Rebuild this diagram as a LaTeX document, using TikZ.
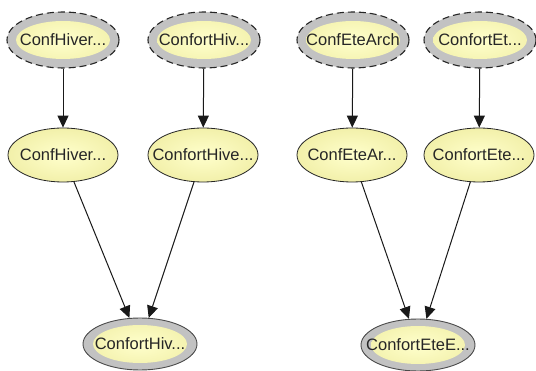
\documentclass[tikz,border=0pt]{standalone}
\usepackage{fontspec}
\setmainfont{Liberation Sans}
\usetikzlibrary{arrows.meta, shapes.geometric}
\definecolor{ringgray}{HTML}{C2C2C2}
\definecolor{nodeyellow}{HTML}{FFFFCC}
\definecolor{edgeyellow}{HTML}{F2F0AA}
\definecolor{rimdark}{HTML}{4A4A4A}

% label that does not widen its ellipse
\newcommand{\varname}[1]{\makebox[0pt][c]{#1}}

\tikzset{
    lbl/.style={font=\fontsize{16.5}{19}\selectfont, text=black!85},
    inyellow/.style={path picture={
        \shade[inner color=nodeyellow, outer color=edgeyellow]
            (path picture bounding box.center) ellipse [x radius=47pt, y radius=19pt];}},
    srcnode/.style={ellipse, lbl, minimum width=112pt, minimum height=56pt,
        fill=ringgray, draw=black!85, dashed, dash pattern=on 7pt off 4pt,
        line width=1.1pt, inner sep=0pt, inyellow},
    midnode/.style={ellipse, lbl, minimum width=110pt, minimum height=54pt,
        shade, inner color=nodeyellow, outer color=edgeyellow,
        draw=black!85, line width=0.8pt, inner sep=0pt},
    resnode/.style={ellipse, lbl, minimum width=114pt, minimum height=52pt,
        fill=ringgray, draw=rimdark, line width=0.9pt, inner sep=0pt, inyellow},
    link/.style={-{Triangle[width=11pt,length=12pt]}, line width=1pt, black!90},
}

\begin{document}
\begin{tikzpicture}[x=1pt, y=-1pt]
    \useasboundingbox[fill=white] (0,0) rectangle (536,371);

    % sources
    \node[srcnode] (hivarch) at (63,40) {\varname{ConfHiver...}};
    \node[srcnode] (hivconf) at (204,40) {\varname{ConfortHiv...}};
    \node[srcnode] (etearch) at (353,40) {\varname{ConfEteArch}};
    \node[srcnode] (eteconf) at (480,40) {\varname{ConfortEt...}};

    % intermediates
    \node[midnode] (hivarchm) at (63,155) {\varname{ConfHiver...}};
    \node[midnode] (hivconfm) at (203,155) {\varname{ConfortHive...}};
    \node[midnode] (etearchm) at (352,155) {\varname{ConfEteAr...}};
    \node[midnode] (eteconfm) at (479,155) {\varname{ConfortEte...}};

    % results
    \node[resnode] (hivres) at (140,344) {\varname{ConfortHiv...}};
    \node[resnode] (eteres) at (418,345) {\varname{ConfortEteE...}};

    \draw[link] (hivarch) -- (hivarchm);
    \draw[link] (hivconf) -- (hivconfm);
    \draw[link] (etearch) -- (etearchm);
    \draw[link] (eteconf) -- (eteconfm);

    \draw[link] (hivarchm) -- (hivres);
    \draw[link] (hivconfm) -- (hivres);
    \draw[link] (etearchm) -- (eteres);
    \draw[link] (eteconfm) -- (eteres);
\end{tikzpicture}
\end{document}
